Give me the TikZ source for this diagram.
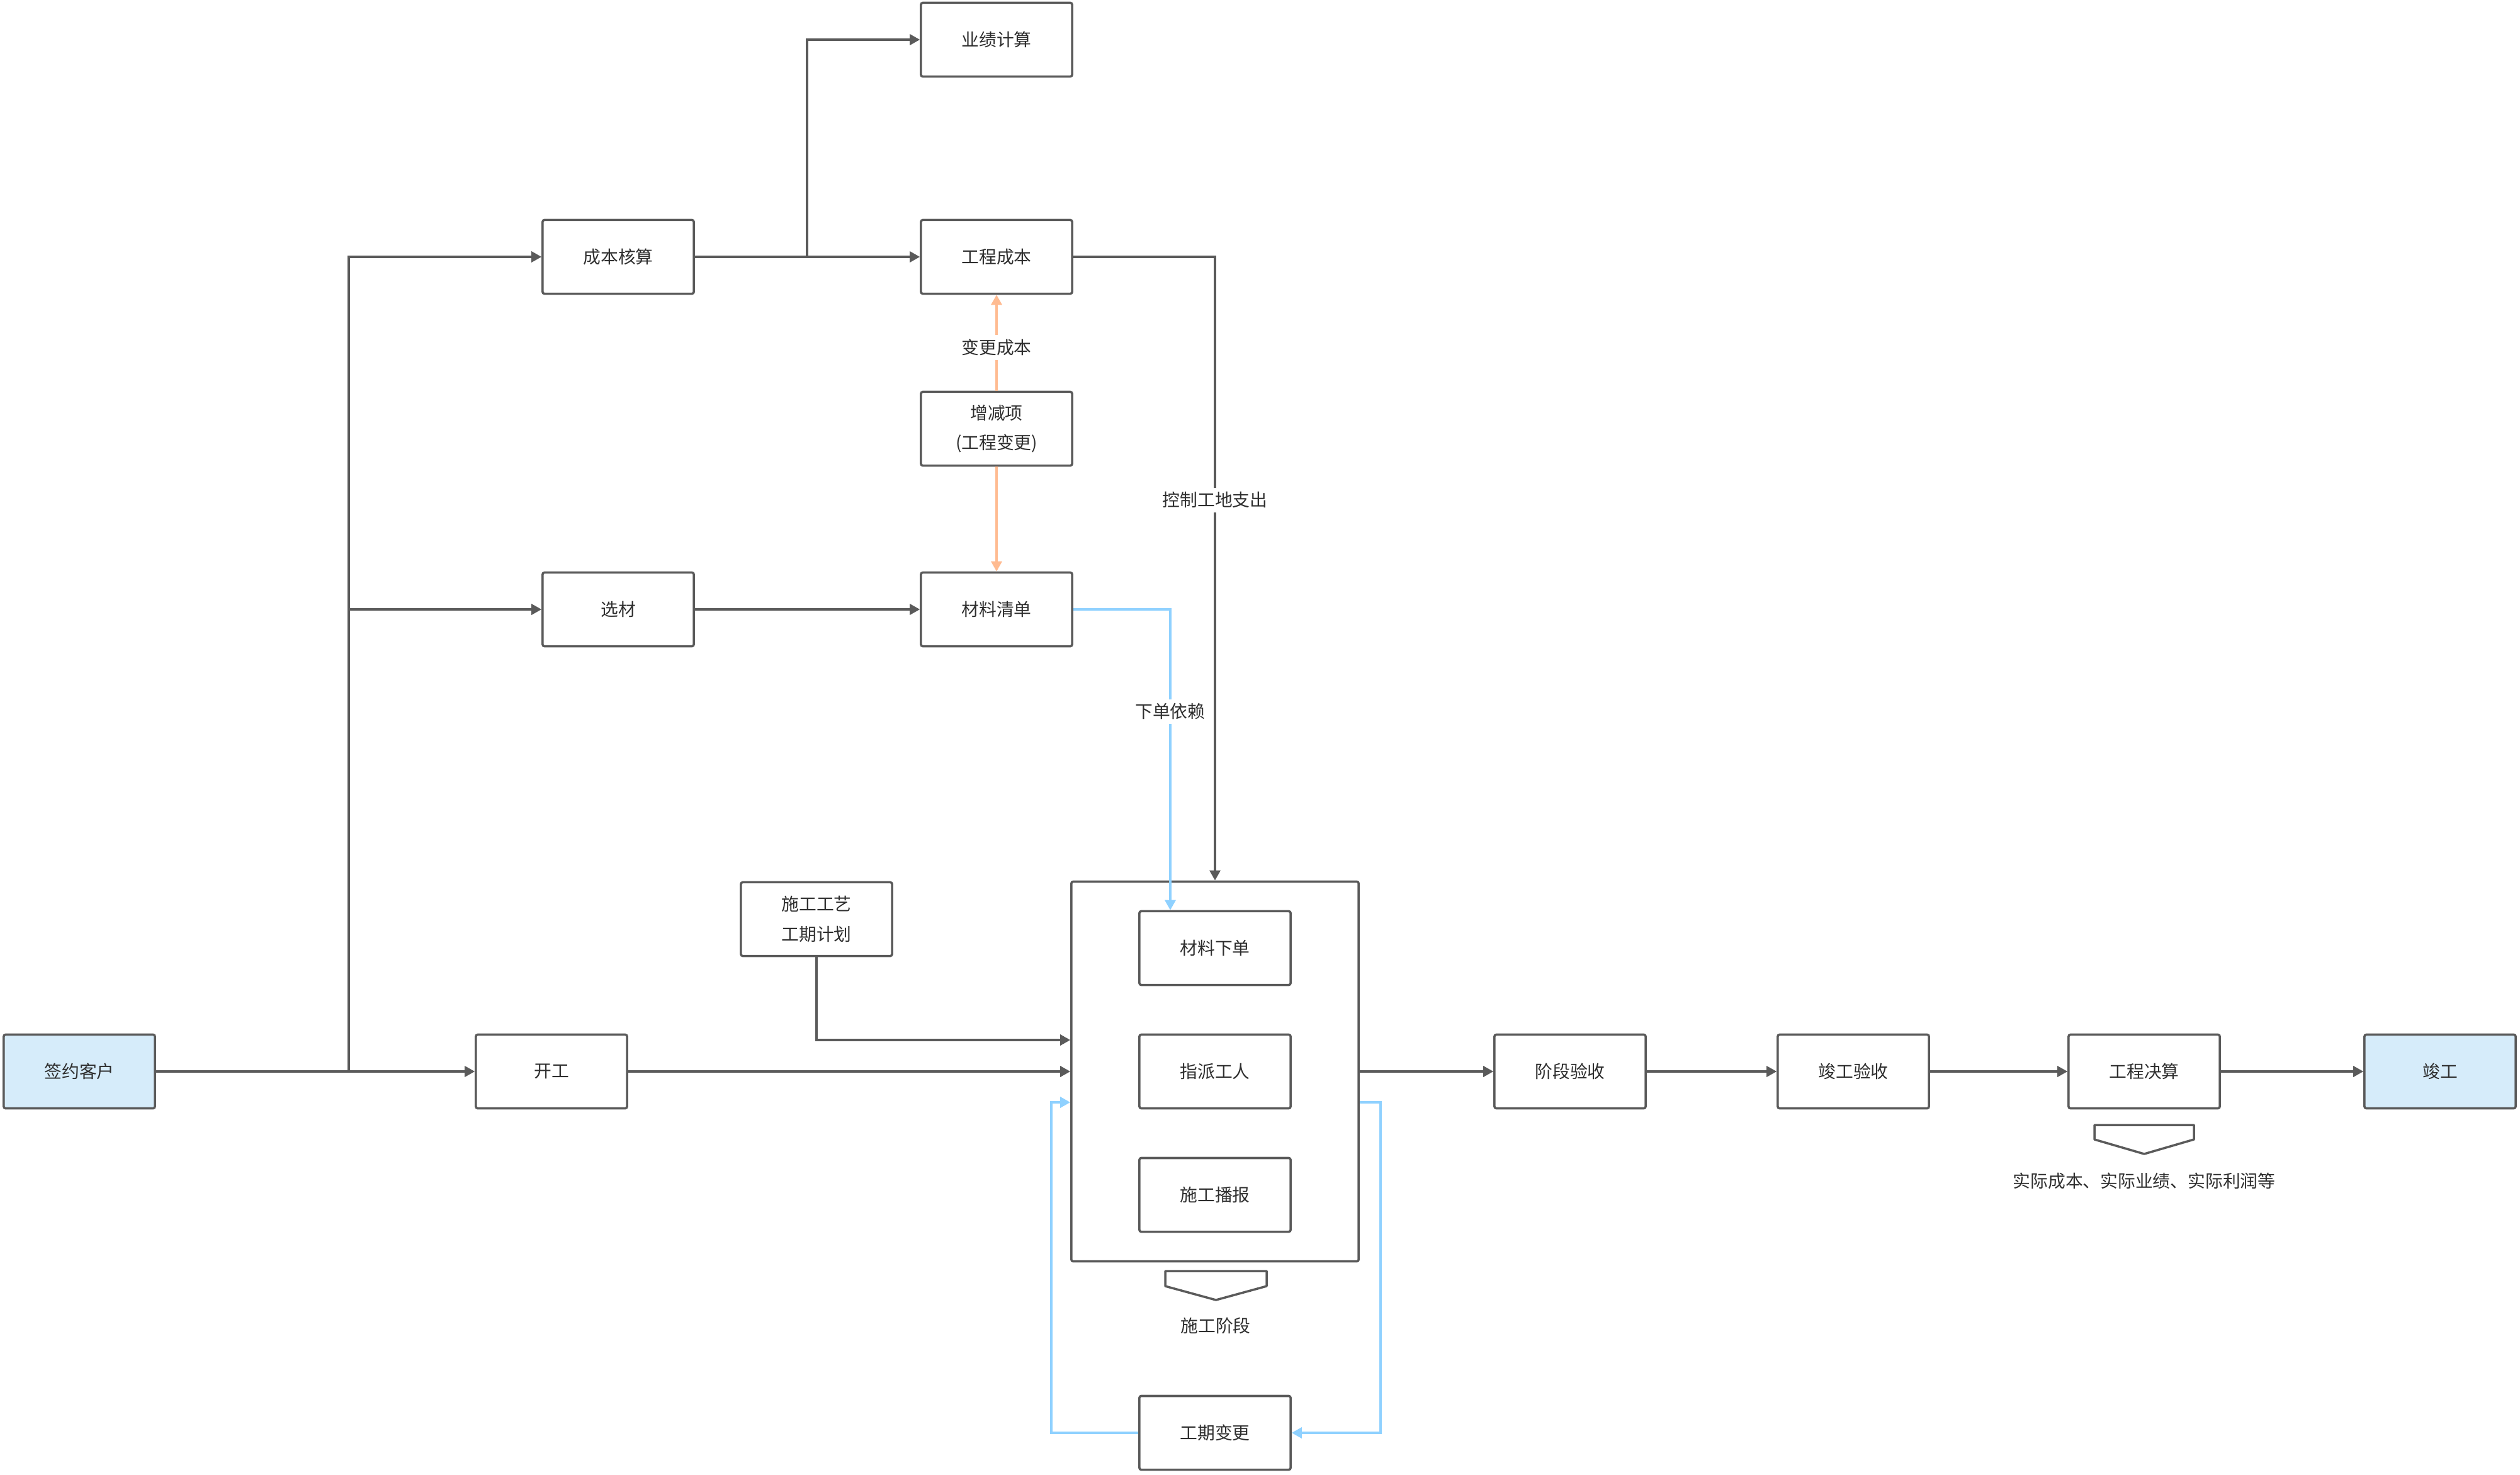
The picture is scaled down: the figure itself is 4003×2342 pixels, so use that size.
\documentclass[tikz,border=0pt]{standalone}
\usepackage{fontspec}
\setmainfont{Noto Sans CJK SC}
\usetikzlibrary{arrows.meta,calc}
\definecolor{ln}{HTML}{5A5A5A}
\definecolor{bl}{HTML}{8FD1FF}
\definecolor{og}{HTML}{FFBB91}
\definecolor{fl}{HTML}{D6ECFA}
\definecolor{tx}{HTML}{2E2E2E}
\begin{document}
\begin{tikzpicture}[x=0.01cm,y=-0.01cm,
  every node/.style={text=tx,font=\fontsize{7.9}{13.6}\selectfont},
  box/.style={draw=ln,line width=1pt,rounded corners=0.8pt,minimum width=2.4cm,minimum height=1.17cm,inner sep=0pt,align=center},
  startbox/.style={box,fill=fl},
  conn/.style={draw=ln,line width=0.95pt,-{Triangle[length=0.16cm,width=0.17cm]}},
  blueconn/.style={draw=bl,line width=0.95pt,-{Triangle[length=0.16cm,width=0.17cm]}},
  orangeconn/.style={draw=og,line width=0.95pt,-{Triangle[length=0.16cm,width=0.17cm]}},
  lbl/.style={fill=white,inner sep=2pt},
  chev/.style={draw=ln,line width=1pt,line join=round}
]
\useasboundingbox (0,0) rectangle (4003,2342);

% nodes
\node[box] (yj) at (1583,63) {业绩计算};
\node[box] (gc) at (1583,408) {工程成本};
\node[box] (cb) at (982,408) {成本核算};
\node[box] (zj) at (1583,681) {增减项\\(工程变更)};
\node[box] (xc) at (982,968) {选材};
\node[box] (cl) at (1583,968) {材料清单};
\node[box] (gy) at (1297,1460) {施工工艺\\工期计划};
\node[draw=ln,line width=1pt,rounded corners=0.8pt,minimum width=4.56cm,minimum height=6.03cm,inner sep=0pt] (stage) at (1930,1702) {};
\node[box] (cx) at (1930,1506) {材料下单};
\node[box] (zp) at (1930,1702) {指派工人};
\node[box] (bb) at (1930,1898) {施工播报};
\node[box] (gq) at (1930,2276) {工期变更};
\node[startbox] (qy) at (126,1702) {签约客户};
\node[box] (kg) at (876,1702) {开工};
\node[box] (jd) at (2494,1702) {阶段验收};
\node[box] (jy) at (2944,1702) {竣工验收};
\node[box] (js) at (3406,1702) {工程决算};
\node[startbox] (jg) at (3876,1702) {竣工};

% chevrons and captions
\draw[chev] (1851,2019) -- (2012,2019) -- (2012,2043) -- (1931.5,2065) -- (1851,2043) -- cycle;
\node (sgjd) at (1931,2106) {施工阶段};
\draw[chev] (3327,1787) -- (3485,1787) -- (3485,1810) -- (3406,1833) -- (3327,1810) -- cycle;
\node (sj) at (3406,1876) {实际成本、实际业绩、实际利润等};

% helper coordinates
\coordinate (trunk) at (554,1702);
\coordinate (br) at (1282,408);
\coordinate (lp) at (1670,1751);
\coordinate (rp) at (2193,1751);
\coordinate (gyh) at (0,1652);

% main flow
\draw[conn] (qy.east) -- (kg.west);
\draw[conn] (trunk) |- (cb.west);
\draw[conn] (trunk |- xc.west) -- (xc.west);
\draw[conn] (cb.east) -- (gc.west);
\draw[conn] (br) |- (yj.west);
\draw[conn] (xc.east) -- (cl.west);
\draw[conn] (kg.east) -- (kg.east -| stage.west);
\draw[conn] (gy.south) |- (stage.west |- gyh);
\draw[conn] (gc.east) -| (stage.north) node[lbl,pos=0.695] {控制工地支出};
\draw[conn] (stage.east |- jd.west) -- (jd.west);
\draw[conn] (jd.east) -- (jy.west);
\draw[conn] (jy.east) -- (js.west);
\draw[conn] (js.east) -- (jg.west);

% orange
\draw[orangeconn] (zj.north) -- (gc.south) node[lbl,pos=0.45] {变更成本};
\draw[orangeconn] (zj.south) -- (cl.north);

% blue
\draw[blueconn] (cl.east) -| ([xshift=-0.71cm]cx.north) node[lbl,pos=0.67] {下单依赖};
\draw[blueconn] (gq.west) -| (lp) -- (stage.west |- lp);
\draw[blueconn] (stage.east |- rp) -- (rp) |- (gq.east);
\end{tikzpicture}
\end{document}
